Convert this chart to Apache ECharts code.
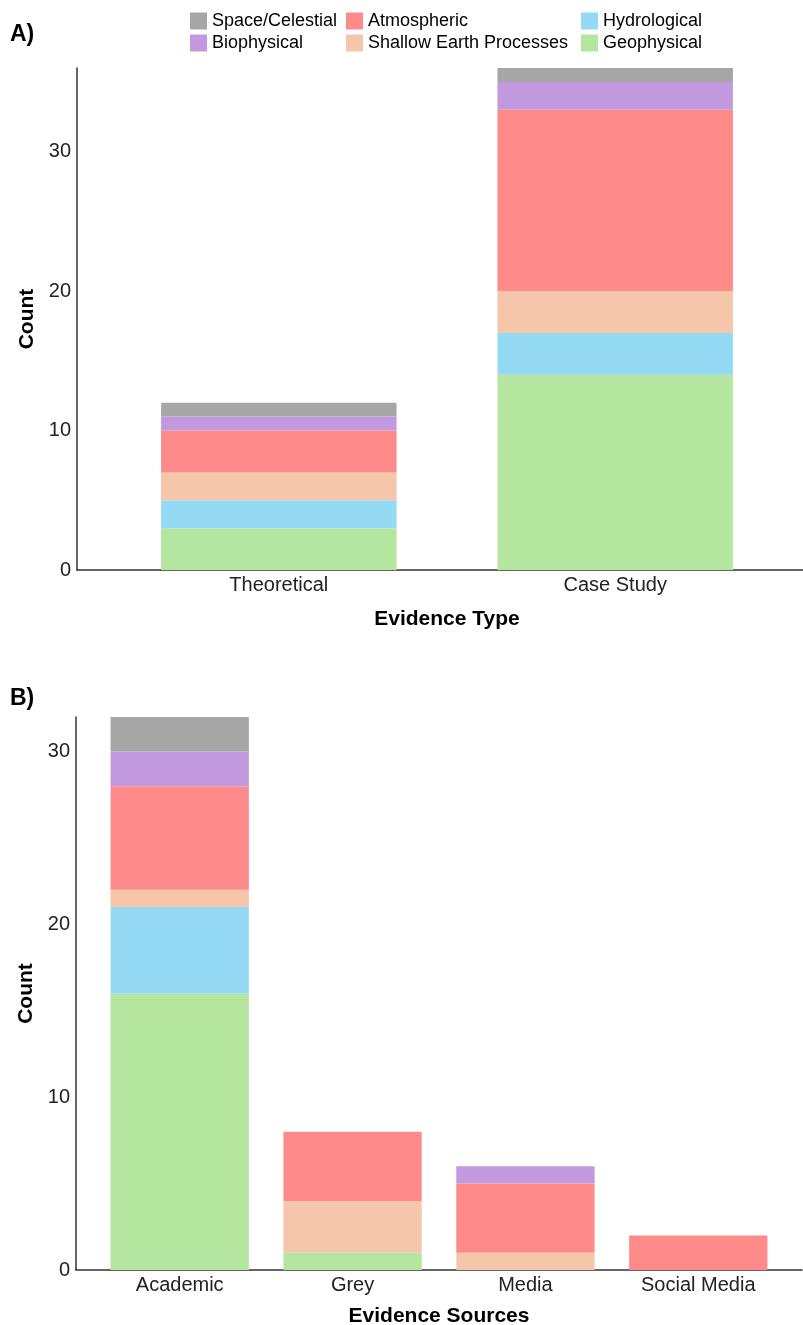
<!DOCTYPE html>
<html>
<head>
<meta charset="utf-8">
<script src="https://cdn.jsdelivr.net/npm/echarts@6/dist/echarts.min.js"></script>
<style>
html,body{margin:0;padding:0;background:#fff;}
#c{width:803px;height:1325px;}
</style>
</head>
<body>
<div id="c"></div>
<script>
// ---- data ----
var categoriesA = ['Theoretical', 'Case Study'];
var categoriesB = ['Academic', 'Grey', 'Media', 'Social Media'];
var seriesNames = ['Geophysical', 'Hydrological', 'Shallow Earth Processes', 'Atmospheric', 'Biophysical', 'Space/Celestial'];
var seriesColors = ['#B5E6A0', '#94DAF5', '#F5C6AA', '#FF8A8A', '#C298DF', '#A6A6A6'];

var geoA = [3, 14];
var hydroA = [2, 3];
var shallowA = [2, 3];
var atmosA = [3, 13];
var bioA = [1, 2];
var spaceA = [1, 1];

var geoB = [16, 1, 0, 0];
var hydroB = [5, 0, 0, 0];
var shallowB = [1, 3, 1, 0];
var atmosB = [6, 4, 4, 2];
var bioB = [2, 0, 1, 0];
var spaceB = [2, 0, 0, 0];

var valuesA = [geoA, hydroA, shallowA, atmosA, bioA, spaceA];
var valuesB = [geoB, hydroB, shallowB, atmosB, bioB, spaceB];

// ---- layout ----
var FONT = '"Liberation Sans", Arial, sans-serif';
var W = 803;
// frame (axis lines) extents, ggplot-style 0.6-unit expansion on a discrete axis
var frameA = {left: 77, right: -14, top: 68, bottom: 755, outerBoundsMode: 'none', containLabel: false};
var frameB = {left: 76, right: 1, top: 717, bottom: 55, outerBoundsMode: 'none', containLabel: false};

function dataGrid(frame, n) {
  var width = W - frame.left - frame.right;
  var unit = width / (n + 0.2);
  var left = frame.left + 0.1 * unit;
  var dw = n * unit;
  return {left: left, right: W - left - dw, top: frame.top, bottom: frame.bottom, outerBoundsMode: 'none', containLabel: false};
}
var gridA = dataGrid(frameA, categoriesA.length);
var gridB = dataGrid(frameB, categoriesB.length);

var chart = echarts.init(document.getElementById('c'), null, {renderer: 'canvas'});

var lineStyle = {color: '#333', width: 1.5};
var nameStyle = {fontFamily: FONT, fontWeight: 'bold', fontSize: 21, color: '#000'};

function catXAxis(gridIndex, cats) {
  return {
    type: 'category', gridIndex: gridIndex, data: cats,
    axisLine: {show: false}, axisTick: {show: false}, splitLine: {show: false},
    axisLabel: {fontFamily: FONT, fontSize: 20, color: '#222', margin: 5, interval: 0}
  };
}
function frameXAxis(gridIndex, name, nameGap) {
  return {
    type: 'value', gridIndex: gridIndex, min: 0, max: 1,
    name: name, nameLocation: 'middle', nameGap: nameGap, nameTextStyle: nameStyle,
    axisLine: {show: true, onZero: false, lineStyle: lineStyle},
    axisTick: {show: false}, axisLabel: {show: false}, splitLine: {show: false}
  };
}
function hiddenYAxis(gridIndex, max) {
  return {type: 'value', gridIndex: gridIndex, min: 0, max: max, show: false, splitLine: {show: false}};
}
function frameYAxis(gridIndex, max) {
  return {
    type: 'value', gridIndex: gridIndex, min: 0, max: max, interval: 10,
    name: 'Count', nameLocation: 'middle', nameGap: 39, nameRotate: 90, nameTextStyle: nameStyle,
    axisLine: {show: true, onZero: false, lineStyle: lineStyle},
    axisTick: {show: false}, splitLine: {show: false},
    axisLabel: {showMaxLabel: false, fontFamily: FONT, fontSize: 20, color: '#222', margin: 6}
  };
}

var series = [];
seriesNames.forEach(function (n, si) {
  series.push({
    name: n, type: 'bar', stack: 'A', xAxisIndex: 0, yAxisIndex: 0,
    barWidth: '70%', itemStyle: {color: seriesColors[si]},
    data: valuesA[si]
  });
});
seriesNames.forEach(function (n, si) {
  series.push({
    name: n, type: 'bar', stack: 'B', xAxisIndex: 2, yAxisIndex: 2,
    barWidth: '80%', itemStyle: {color: seriesColors[si]},
    data: valuesB[si]
  });
});

function makeLegend(left, names) {
  return {
    orient: 'vertical', left: left, top: 12, padding: 0, itemGap: 4,
    itemWidth: 17, itemHeight: 17, icon: 'rect',
    textStyle: {fontFamily: FONT, fontSize: 18, color: '#000'},
    data: names
  };
}

chart.setOption({
  animation: false,
  backgroundColor: '#fff',
  legend: [
    makeLegend(190, ['Space/Celestial', 'Biophysical']),
    makeLegend(346, ['Atmospheric', 'Shallow Earth Processes']),
    makeLegend(581, ['Hydrological', 'Geophysical'])
  ],
  graphic: [
    {type: 'text', left: 10, top: 23, style: {text: 'A)', font: 'bold 23px ' + FONT, fill: '#000'}},
    {type: 'text', left: 10, top: 687, style: {text: 'B)', font: 'bold 23px ' + FONT, fill: '#000'}}
  ],
  grid: [gridA, frameA, gridB, frameB],
  xAxis: [
    catXAxis(0, categoriesA),
    frameXAxis(1, 'Evidence Type', 39),
    catXAxis(2, categoriesB),
    frameXAxis(3, 'Evidence Sources', 36)
  ],
  yAxis: [
    hiddenYAxis(0, 36),
    frameYAxis(1, 36),
    hiddenYAxis(2, 32),
    frameYAxis(3, 32)
  ],
  series: series
});
</script>
</body>
</html>
